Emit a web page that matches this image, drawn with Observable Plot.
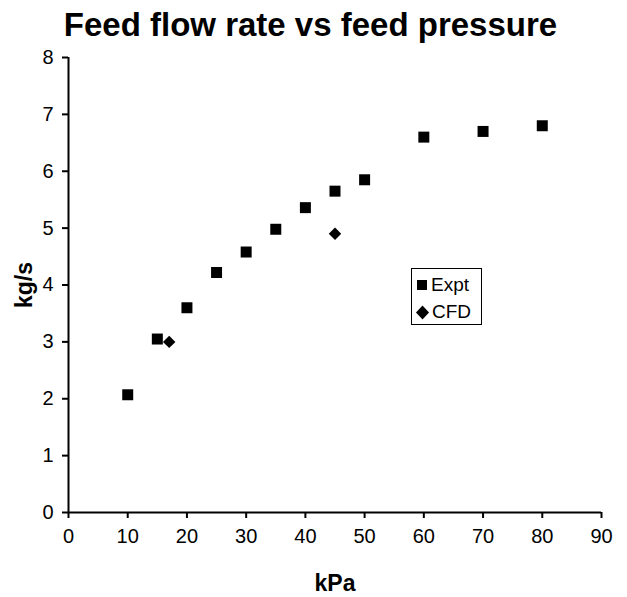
<!DOCTYPE html>
<html>
<head>
<meta charset="utf-8">
<script src="https://cdn.jsdelivr.net/npm/d3@7"></script>
<script src="https://cdn.jsdelivr.net/npm/@observablehq/plot@0.6"></script>
<style>
  body { margin: 0; background: #fff; font-family: "Liberation Sans", Arial, sans-serif; }
  #wrap { position: relative; width: 627px; height: 597px; }
  #title { height: 45px; width: 627px; text-align: center; font-weight: bold; font-size: 33px; line-height: 50px; color: #000; white-space: nowrap; margin-left: -3px; }
  #legend { position: absolute; left: 411px; top: 268px; width: 69px; height: 55px; border: 1px solid #000; background: #fff; font-size: 19px; line-height: 20px; color: #000; }
  #legend .row { position: absolute; left: 3px; display: flex; align-items: center; }
  #legend svg { margin-right: 2px; }
  g[aria-label="x-axis label"] text, g[aria-label="y-axis label"] text { font-weight: bold; font-size: 23px; }
</style>
</head>
<body>
<div id="wrap">
  <div id="title">Feed flow rate vs feed pressure</div>
  <div id="chart"></div>
  <div id="legend">
    <div class="row" style="top:6px"><svg width="14" height="12"><rect x="2" y="1" width="10" height="10" fill="#000"/></svg><span>Expt</span></div>
    <div class="row" style="top:33px"><svg width="15" height="15"><path d="M7.5,0.5L14,7.5L7.5,14.5L1,7.5Z" fill="#000"/></svg><span>CFD</span></div>
  </div>
</div>
<script>
const exptX = [10, 15, 20, 25, 30, 35, 40, 45, 50, 60, 70, 80];
const exptY = [2.07, 3.05, 3.6, 4.22, 4.58, 4.98, 5.36, 5.65, 5.85, 6.6, 6.7, 6.8];
const cfdX = [17, 45];
const cfdY = [3.0, 4.9];
const xTicks = [0, 10, 20, 30, 40, 50, 60, 70, 80, 90];
const yTicks = [0, 1, 2, 3, 4, 5, 6, 7, 8];

const expt = exptX.map((x, i) => ({x, y: exptY[i]}));
const cfd = cfdX.map((x, i) => ({x, y: cfdY[i]}));

const chart = Plot.plot({
  width: 627,
  height: 552,
  marginTop: 12,
  marginRight: 26,
  marginBottom: 85,
  marginLeft: 68,
  style: {fontFamily: '"Liberation Sans", Arial, sans-serif', fontSize: "20px", color: "#000", background: "#fff"},
  x: {domain: [0, 90]},
  y: {domain: [0, 8]},
  marks: [
    Plot.axisX({ticks: xTicks, tickSize: 6, tickPadding: 10, strokeWidth: 2, label: "kPa", labelAnchor: "center", labelArrow: "none", labelOffset: 78, fontSize: 20}),
    Plot.axisY({ticks: yTicks, tickSize: 6, tickPadding: 9, strokeWidth: 2, label: "kg/s", labelAnchor: "center", labelArrow: "none", labelOffset: 53, fontSize: 20}),
    Plot.ruleX([0], {stroke: "#000", strokeWidth: 2}),
    Plot.ruleY([0], {stroke: "#000", strokeWidth: 2}),
    Plot.dot(expt, {x: "x", y: "y", symbol: "square", r: 6.2, fill: "#000", stroke: "none"}),
    Plot.dot(cfd, {x: "x", y: "y", symbol: "diamond2", r: 5.6, fill: "#000", stroke: "none"})
  ]
});
document.getElementById("chart").appendChild(chart);
</script>
</body>
</html>
